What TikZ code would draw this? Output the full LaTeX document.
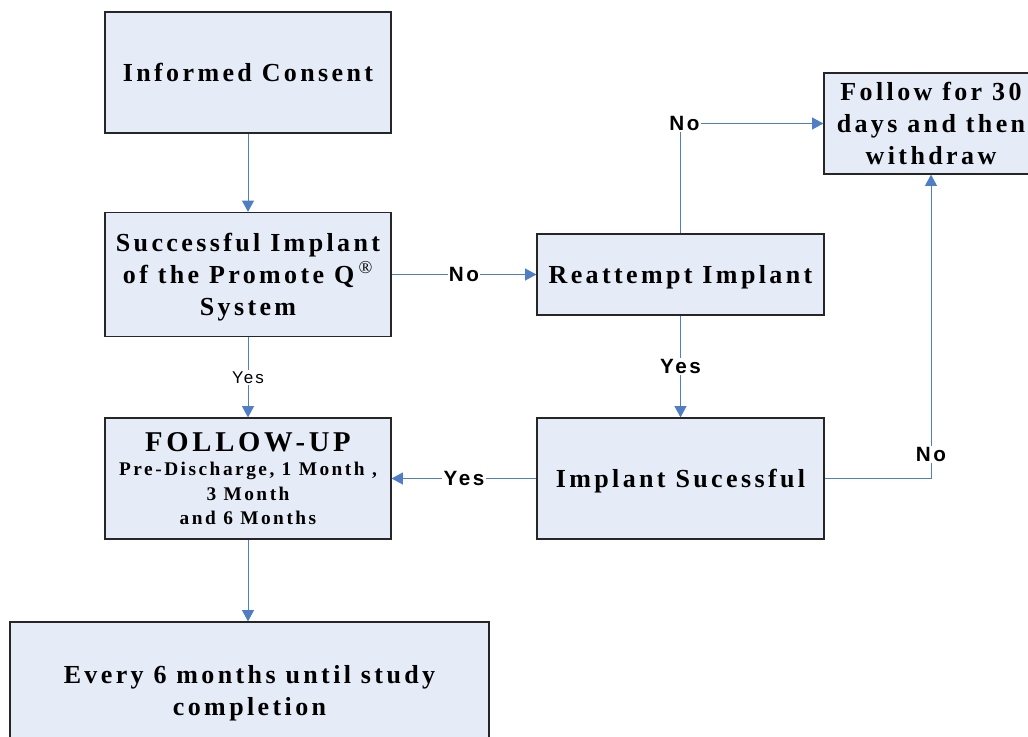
\documentclass[tikz,border=0pt]{standalone}
\usepackage{fontspec}
\setmainfont{Liberation Serif}[LetterSpace=13]
\newfontfamily\lblfont{Liberation Sans}[LetterSpace=12]
\usetikzlibrary{arrows.meta,positioning}
\definecolor{pane}{HTML}{E6ECF7}
\definecolor{edge}{HTML}{262626}
\definecolor{link}{HTML}{4F7EC4}
\newcommand{\subline}{\fontsize{14.5}{18.4}\selectfont}
\tikzset{
  box/.style={draw=edge,fill=pane,line width=0.9pt,minimum width=#1,align=center,text depth=0pt,
              font=\bfseries\fontsize{19.5}{24}\selectfont,inner sep=2pt},
  box/.default=214.5pt,
  msg/.style={-{Triangle[length=8.5pt,width=9pt]},line width=0.75pt,draw=link},
  lbl/.style={font=\lblfont\bfseries\fontsize{15.5}{18}\selectfont,fill=white,inner sep=1pt},
  slbl/.style={font=\lblfont\fontsize{12.75}{15}\selectfont,fill=white,inner sep=1pt},
}

\begin{document}
\begin{tikzpicture}[x=0.75pt,y=-0.75pt]
  \useasboundingbox (0,0) rectangle (1028,736);
  \node[box,minimum height=90.75pt] (cons) at (248,72.5) {Informed Consent};
  \node[box,minimum height=93pt] (impl) at (248,274.5) {Successful Implant\\ of the Promote Q\,\textsuperscript{\mdseries\textregistered}\\ System};
  \node[box,minimum height=90.75pt,font=\bfseries\subline] (fup) at (248,478.5) {\fontsize{21.5}{25}\selectfont FOLLOW-UP\\
    Pre-Discharge, 1 Month ,\\ 3 Month\\ and 6 Months};
  \node[box=359.25pt,minimum height=102pt] (every) at (249.5,690) {Every 6 months until study\\ completion};
  \node[box=215.25pt,minimum height=60.75pt] (reat) at (680.5,274.5) {Reattempt Implant};
  \node[box=215.25pt,minimum height=90.75pt] (ok) at (680.5,478.5) {Implant Sucessful};
  \node[box=160.5pt,minimum height=75.75pt] (wd) at (931,123.5) {Follow for 30\\ days and then\\ withdraw};
  \draw[msg] (cons) -- (impl);
  \draw[msg] (impl) -- node[lbl]{No} (reat);
  \draw[msg] (impl) -- node[slbl]{Yes} (fup);
  \draw[msg] (reat) -- node[lbl]{Yes} (ok);
  \draw[msg] (ok) -- node[lbl]{Yes} (fup);
  \draw[msg] (fup.south) -- (fup.south |- every.north);
  \draw[msg] (ok.east) -| node[lbl,pos=0.54]{No} (wd.south);
  \draw[msg] (reat.north) |- node[lbl,pos=0.5,xshift=3pt]{No} (wd.west);
\end{tikzpicture}
\end{document}
